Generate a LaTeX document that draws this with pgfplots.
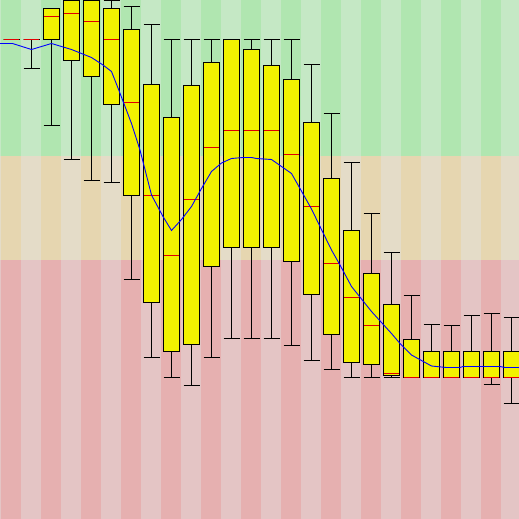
\documentclass[border=0pt]{standalone}
\usepackage{pgfplots}
\pgfplotsset{compat=1.18}
\usepgfplotslibrary{statistics}
\definecolor{gD}{RGB}{176,230,176}
\definecolor{gL}{RGB}{197,232,197}
\definecolor{oD}{RGB}{230,214,176}
\definecolor{oL}{RGB}{228,220,200}
\definecolor{rD}{RGB}{230,176,176}
\definecolor{rL}{RGB}{228,197,197}
\definecolor{boxY}{RGB}{242,242,0}
\definecolor{medR}{RGB}{226,0,0}
\newcommand{\cand}[6]{%
  \addplot[draw=black, fill=boxY, line width=1bp,
    boxplot prepared={draw position=#1, lower whisker=#2, lower quartile=#3,
      median=#4, upper quartile=#5, upper whisker=#6}] coordinates {};}
\begin{document}
\begin{tikzpicture}
\begin{axis}[scale only axis, width=519bp, height=519bp,
  xmin=0, xmax=519, ymin=0, ymax=519, y dir=reverse,
  hide axis, clip=true,
  boxplot/draw direction=y,
  boxplot/box extend=16, boxplot/whisker extend=16,
  boxplot/every median/.style={draw=medR, line width=1.1bp, shorten <=0.6bp, shorten >=0.6bp}]
\fill[gD] (axis cs:0,0) rectangle (axis cs:519,156);
\fill[oD] (axis cs:0,156) rectangle (axis cs:519,260);
\fill[rD] (axis cs:0,260) rectangle (axis cs:519,519);
\pgfplotsinvokeforeach{-1,...,12}{
  \fill[gL] (axis cs:{21+40*#1},0) rectangle (axis cs:{41+40*#1},156);
  \fill[oL] (axis cs:{21+40*#1},156) rectangle (axis cs:{41+40*#1},260);
  \fill[rL] (axis cs:{21+40*#1},260) rectangle (axis cs:{41+40*#1},519);
}
\cand{11.5}{39.5}{39.5}{39.5}{39.5}{39.5}
\cand{31.5}{39.5}{39.5}{39.5}{39.5}{68.5}
\cand{51.5}{8.5}{8.5}{16.5}{39.5}{125.5}
\cand{71.5}{0.5}{0.5}{13.5}{60.5}{159.5}
\cand{91.5}{0.5}{0.5}{21.5}{76.5}{180.5}
\cand{111.5}{0.5}{8.5}{39.5}{104.5}{182.5}
\cand{131.5}{6.5}{29.5}{102.5}{195.5}{279.5}
\cand{151.5}{24.5}{84.5}{195.5}{302.5}{357.5}
\cand{171.5}{39.5}{117.5}{255.5}{351.5}{377.5}
\cand{191.5}{39.5}{85.5}{199.5}{344.5}{385.5}
\cand{211.5}{39.5}{62.5}{147.5}{266.5}{357.5}
\cand{231.5}{39.5}{39.5}{130.5}{247.5}{338.5}
\cand{251.5}{39.5}{49.5}{130.5}{247.5}{338.5}
\cand{271.5}{39.5}{65.5}{130.5}{247.5}{338.5}
\cand{291.5}{39.5}{79.5}{154.5}{261.5}{345.5}
\cand{311.5}{64.5}{122.5}{206.5}{294.5}{360.5}
\cand{331.5}{113.5}{178.5}{263.5}{334.5}{369.5}
\cand{351.5}{162.5}{230.5}{297.5}{362.5}{377.5}
\cand{371.5}{213.5}{273.5}{325.5}{364.5}{377.5}
\cand{391.5}{252.5}{304.5}{373.5}{375.5}{377.5}
\cand{411.5}{295.5}{339.5}{377.5}{377.5}{377.5}
\cand{431.5}{324.5}{351.5}{377.5}{377.5}{377.5}
\cand{451.5}{325.5}{351.5}{377.5}{377.5}{377.5}
\cand{471.5}{315.5}{351.5}{377.5}{377.5}{377.5}
\cand{491.5}{313.5}{351.5}{377.5}{377.5}{384.5}
\cand{511.5}{317.5}{351.5}{377.5}{377.5}{403.5}
\addplot[blue, line width=0.9bp] coordinates {
(0,43.5) (12.5,43.5) (31.5,49.5) (51.5,43.5) (71.5,49.5) (91.5,57.5)
(103,65) (111.5,71.5) (118,88) (131.5,123.5) (140,150) (151.5,195)
(163,216.5) (171.5,230.5) (181.5,219.5) (191.5,206.5) (201.5,188.5)
(211.5,171.5) (221.5,163) (231.5,158.5) (243,157.5) (251.5,157.5)
(256.5,158.5) (271.5,159.5) (291.5,173.5) (300,188.5) (311.5,209)
(320,226.5) (331.5,250) (340,265) (351.5,286.5) (371.5,311.5)
(391.5,333.5) (400,343.5) (411.5,355) (431.5,366) (446.5,367.5)
(460,367.5) (463,366.5) (500,366.5) (505,367.5) (519,367.5)};
\end{axis}
\end{tikzpicture}
\end{document}
